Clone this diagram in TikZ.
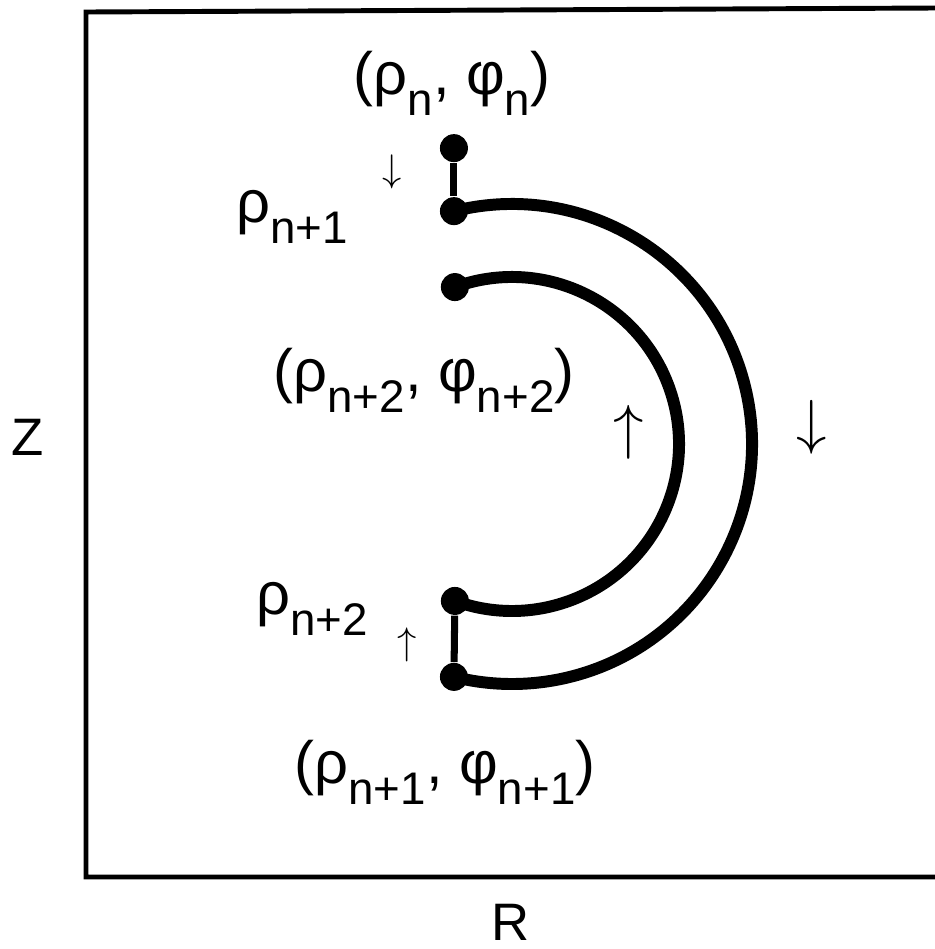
\documentclass[tikz,border=0pt]{standalone}
\usepackage{fontspec}
\setmainfont{Liberation Sans}
\usetikzlibrary{calc}

\newcommand{\lo}[1]{\raisebox{-6pt}{\fontsize{13}{13}\selectfont #1}}

\begin{document}
\begin{tikzpicture}[
  dot/.style={circle, fill=black, inner sep=0pt, minimum size=0.28cm},
  track/.style={line width=3.4pt},
  stem/.style={line width=2pt},
  lbl/.style={font=\fontsize{17}{20}\selectfont, inner sep=0pt},
  axis/.style={font=\fontsize{15}{18}\selectfont, inner sep=0pt},
  smallarr/.style={font=\fontsize{11}{12}\selectfont, inner sep=0pt},
  bigarr/.style={font=\fontsize{16}{18}\selectfont, inner sep=0pt}
]
\useasboundingbox (0,0) rectangle (9.35,-9.49);

% Frame
\draw[line width=1.4pt] (9.35,-0.08) -- (0.86,-0.12) -- (0.86,-8.77) -- (9.35,-8.77);

% Axis labels
\node[axis] (zlab) at (0.28,-4.37) {Z};
\node[axis] (rlab) at (5.11,-9.22) {R};

% Path points
\coordinate (ctr) at (5.12,-4.44);
\node[dot] (pa) at ($(ctr)+(104:2.40)$) {};
\node[dot] (pn) at ($(pa)+(0,0.63)$) {};
\node[dot] (pb) at ($(ctr)+(110:1.67)$) {};
\node[dot] (pc) at ($(ctr)+(-110:1.67)$) {};
\node[dot] (pd) at ($(ctr)+(-104:2.40)$) {};

\draw[stem] (pn) -- (pa);
\draw[stem] (pc) -- (pd);
\draw[track] (pa.center) arc[start angle=104, end angle=-104, radius=2.40];
\draw[track] (pb.center) arc[start angle=110, end angle=-110, radius=1.67];

% Point labels
\node[lbl] (top) at (4.52,-0.83) {(ρ\lo{n}, φ\lo{n})};
\node[lbl] (rho1) at (2.92,-2.17) {ρ\lo{n+1}};
\node[lbl] (mid) at (4.24,-3.80) {(ρ\lo{n+2}, φ\lo{n+2})};
\node[lbl] (rho2) at (3.12,-6.09) {ρ\lo{n+2}};
\node[lbl] (bot) at (4.45,-7.72) {(ρ\lo{n+1}, φ\lo{n+1})};

% Direction marks
\node[smallarr] (dn1) at (3.92,-1.72) {$\downarrow$};
\node[smallarr] (up1) at (4.07,-6.45) {$\uparrow$};
\node[bigarr] (up2) at (6.29,-4.32) {$\uparrow$};
\node[bigarr] (dn2) at (8.12,-4.27) {$\downarrow$};

\end{tikzpicture}
\end{document}
